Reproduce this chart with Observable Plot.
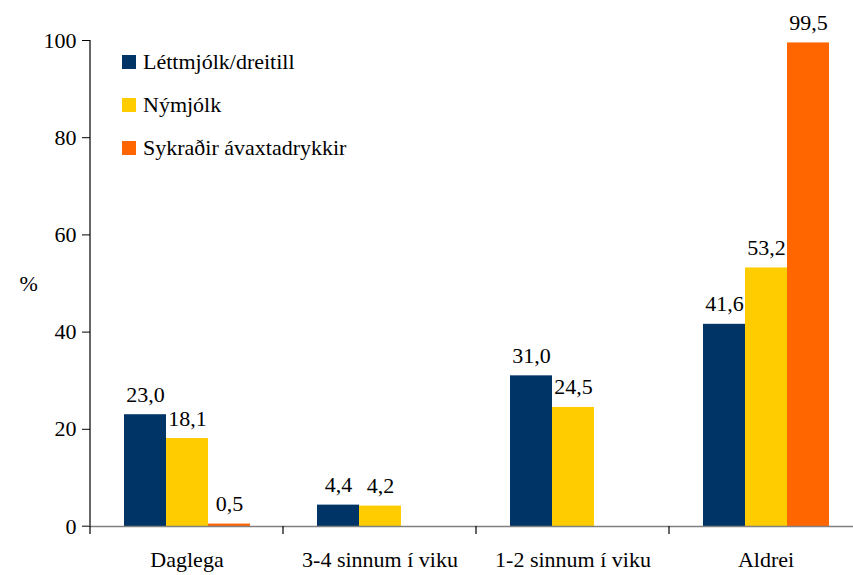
<!DOCTYPE html>
<html>
<head>
<meta charset="utf-8">
<script src="https://cdn.jsdelivr.net/npm/d3@7"></script>
<script src="https://cdn.jsdelivr.net/npm/@observablehq/plot@0.6"></script>
</head>
<body style="margin:0;background:white">
<div id="wrap"><div id="legend"></div></div>
<script>
const categories = ["Daglega", "3-4 sinnum í viku", "1-2 sinnum í viku", "Aldrei"];
const seriesNames = ["Léttmjólk/dreitill", "Nýmjólk", "Sykraðir ávaxtadrykkir"];
const seriesColors = ["#003366", "#FFCC00", "#FF6600"];
const lettmjolk = [23.0, 4.4, 31.0, 41.6];
const nymjolk = [18.1, 4.2, 24.5, 53.2];
const sykradir = [0.5, null, null, 99.5];
const yTicks = [0, 20, 40, 60, 80, 100];

const FONT = "\"Liberation Serif\", \"Times New Roman\", serif";
const setFont = el => el.style.setProperty("font-family", FONT, "important");

const seriesValues = [lettmjolk, nymjolk, sykradir];
const data = [];
categories.forEach((c, i) => {
  seriesNames.forEach((s, j) => {
    const v = seriesValues[j][i];
    if (v != null) data.push({cat: c, series: s, value: v});
  });
});

const fmt = v => v.toFixed(1).replace(".", ",");

const plot = Plot.plot({
  width: 853,
  height: 575,
  marginTop: 40,
  marginBottom: 49,
  marginLeft: 89,
  marginRight: 0,
  style: {fontSize: "22px", color: "#000", background: "white", overflow: "visible"},
  fx: {domain: categories, range: [89, 862], paddingInner: 0, paddingOuter: 0, axis: "bottom", tickSize: 0, tickPadding: 25, label: null},
  x: {domain: seriesNames, paddingInner: 0, paddingOuter: 0.77, axis: null},
  y: {domain: [0, 100], ticks: yTicks, tickSize: 8, tickPadding: 6, label: null},
  color: {domain: seriesNames, range: seriesColors},
  marks: [
    Plot.barY(data, {fx: "cat", x: "series", y: "value", fill: "series"}),
    Plot.ruleY([0], {stroke: "#808080", strokeWidth: 1.3}),
    Plot.text(data, {fx: "cat", x: "series", y: "value", text: d => fmt(d.value), dy: -20, fill: "#000"}),
    Plot.text(["%"], {fx: () => categories[0], frameAnchor: "left", dx: -71, fill: "#000"})
  ]
});

const wrap = document.getElementById("wrap");
wrap.style.position = "relative";
wrap.style.width = "853px";
wrap.style.height = "575px";
wrap.style.overflow = "hidden";
wrap.appendChild(plot);
plot.setAttribute("font-family", FONT);
setFont(plot);
plot.querySelectorAll("text, tspan, g").forEach(el => { setFont(el); el.setAttribute("font-family", FONT); });

const svg = d3.select(plot);
const fx = plot.scale("fx");
const y = plot.scale("y");
const y0 = y.apply(0), y100 = y.apply(100);
const left = fx.apply(categories[0]);
svg.append("line").attr("x1", left).attr("x2", left).attr("y1", y100).attr("y2", y0).attr("stroke", "#000").attr("stroke-width", 1.2);
svg.append("line").attr("x1", left - 8).attr("x2", left).attr("y1", y0).attr("y2", y0).attr("stroke", "#808080").attr("stroke-width", 1.3);
const bounds = categories.map(c => fx.apply(c)).concat([fx.apply(categories[categories.length - 1]) + fx.bandwidth]);
bounds.forEach(b => {
  svg.append("line").attr("x1", b).attr("x2", b).attr("y1", y0).attr("y2", y0 + 8).attr("stroke", "#000").attr("stroke-width", 1.2);
});

const legend = document.getElementById("legend");
Object.assign(legend.style, {position: "absolute", left: "122px", top: "52px", fontSize: "22px", color: "#000"});
setFont(legend);
seriesNames.forEach((s, i) => {
  const row = document.createElement("div");
  Object.assign(row.style, {display: "flex", alignItems: "center", height: "20px", marginBottom: "23px"});
  setFont(row);
  const sw = document.createElement("div");
  Object.assign(sw.style, {width: "14px", height: "14px", marginRight: "7px", background: seriesColors[i]});
  const span = document.createElement("span");
  setFont(span);
  span.textContent = s;
  row.appendChild(sw);
  row.appendChild(span);
  legend.appendChild(row);
});
</script>
</body>
</html>
